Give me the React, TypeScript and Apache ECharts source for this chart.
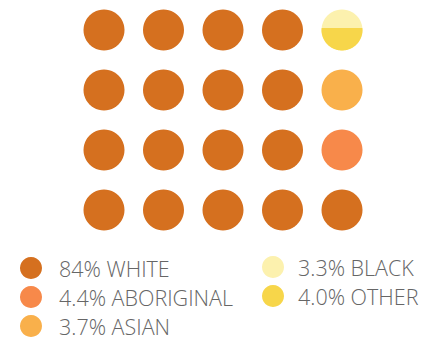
import React, { useEffect, useRef } from "react";
import * as echarts from "echarts";

// Legend labels and shares
const labels = ["84% WHITE", "4.4% ABORIGINAL", "3.7% ASIAN", "3.3% BLACK", "4.0% OTHER"];
const shares = [84, 4.4, 3.7, 3.3, 4.0];
const colors = ["#D5701F", "#F7894A", "#F9B04B", "#FCF1AE", "#F7D64A"];

// Cells [column, row] of the 5 x 4 dot grid
const whiteCells = [
  [0, 0], [1, 0], [2, 0], [3, 0],
  [0, 1], [1, 1], [2, 1], [3, 1],
  [0, 2], [1, 2], [2, 2], [3, 2],
  [0, 3], [1, 3], [2, 3], [3, 3], [4, 3],
];
const aboriginalCells = [[4, 2]];
const asianCells = [[4, 1]];
const blackCells = [[4, 0]];
const otherCells = [[4, 0]];

const DOT = 41;

export default function App() {
  const ref = useRef<HTMLDivElement>(null);
  useEffect(() => {
    if (!ref.current) return;
    const chart = echarts.init(ref.current, null, { renderer: "svg" });
    const otherFrac = shares[4] / (shares[3] + shares[4]);
    const textBase = {
      fontFamily: "Open Sans",
      fontWeight: 300,
      fontSize: 21.5,
      color: "#666666",
    };
    const scatter = (i: number, cells: number[][]) => ({
      type: "scatter",
      name: labels[i],
      data: cells,
      symbol: "circle",
      symbolSize: DOT,
      z: 2,
      itemStyle: { color: colors[i], opacity: 1 },
      silent: true,
    });
    chart.setOption({
      animation: false,
      grid: { left: 74.25, top: 0, width: 297.5, height: 240 },
      xAxis: { type: "value", min: -0.5, max: 4.5, show: false },
      yAxis: { type: "value", min: -0.5, max: 3.5, inverse: true, show: false },
      legend: [
        {
          data: [0, 1, 2].map((i) => ({ name: labels[i], icon: "circle", itemStyle: { color: colors[i], opacity: 1 } })),
          orient: "vertical",
          left: 20,
          top: 257,
          padding: 0,
          itemWidth: 22,
          itemHeight: 22,
          itemGap: 7,
          selectedMode: false,
          textStyle: { ...textBase, padding: [0, 0, 0, 12] },
        },
        {
          data: [3, 4].map((i) => ({ name: labels[i], icon: "circle", itemStyle: { color: colors[i], opacity: 1 } })),
          orient: "vertical",
          left: 262,
          top: 256,
          padding: 0,
          itemWidth: 22,
          itemHeight: 22,
          itemGap: 7,
          selectedMode: false,
          textStyle: { ...textBase, padding: [0, 0, 0, 9] },
        },
      ],
      series: [
        scatter(0, whiteCells),
        scatter(1, aboriginalCells),
        scatter(2, asianCells),
        scatter(3, blackCells),
        {
          type: "custom",
          name: labels[4],
          coordinateSystem: "cartesian2d",
          data: otherCells,
          encode: { x: 0, y: 1 },
          z: 10,
          itemStyle: { color: colors[4] },
          silent: true,
          renderItem: (params: any, api: any) => {
            const c = api.coord([api.value(0), api.value(1)]);
            const r = DOT / 2;
            const yb = c[1] + r - 2 * r * otherFrac;
            const d = yb - c[1];
            const t0 = Math.asin(Math.max(-1, Math.min(1, d / r)));
            const t1 = Math.PI - t0;
            const pts: number[][] = [];
            const n = 60;
            for (let k = 0; k <= n; k++) {
              const t = t0 + ((t1 - t0) * k) / n;
              pts.push([c[0] + r * Math.cos(t), c[1] + r * Math.sin(t)]);
            }
            return {
              type: "polygon",
              shape: { points: pts },
              style: { fill: colors[4] },
            };
          },
        },
      ],
    });
    return () => chart.dispose();
  }, []);
  return (
    <div
      ref={ref}
      style={{ position: "fixed", left: 0, top: 0, width: 442, height: 339, background: "#ffffff" }}
    />
  );
}
